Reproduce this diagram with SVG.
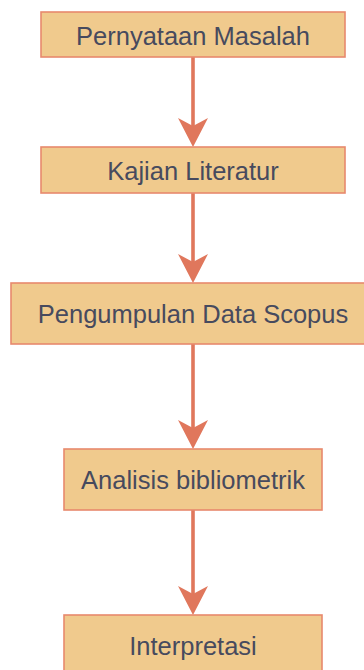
<svg xmlns="http://www.w3.org/2000/svg" width="364" height="670" viewBox="0 0 364 670">
<defs>
<style>
.box{fill:#F0CA8D;stroke:#E8896D;stroke-width:1.6}
.lbl{font-family:"Liberation Sans",Arial,sans-serif;font-size:25.5px;fill:#474A5E;text-anchor:middle}
.ln{stroke:#E0775C;stroke-width:3.6;fill:none}
.hd{fill:#E0775C}
</style>
</defs>
<rect width="364" height="670" fill="#FFFFFF"/>
<g id="connectors">
<line class="ln" x1="193" y1="57" x2="193" y2="130"/>
<path class="hd" d="M193 147 L178 118 L193 126 L208 118 Z"/>
<line class="ln" x1="193" y1="193" x2="193" y2="266"/>
<path class="hd" d="M193 283 L178 254 L193 262 L208 254 Z"/>
<line class="ln" x1="193" y1="344" x2="193" y2="432"/>
<path class="hd" d="M193 449 L178 420 L193 428 L208 420 Z"/>
<line class="ln" x1="193" y1="510" x2="193" y2="598"/>
<path class="hd" d="M193 615 L178 586 L193 594 L208 586 Z"/>
</g>
<g id="n1"><rect class="box" x="41" y="12" width="304" height="45"/><text class="lbl" x="193" y="45">Pernyataan Masalah</text></g>
<g id="n2"><rect class="box" x="41" y="147" width="304" height="46"/><text class="lbl" x="193" y="180">Kajian Literatur</text></g>
<g id="n3"><rect class="box" x="11" y="283" width="364" height="61"/><text class="lbl" x="193" y="323">Pengumpulan Data Scopus</text></g>
<g id="n4"><rect class="box" x="64" y="449" width="258" height="61"/><text class="lbl" x="193" y="489">Analisis bibliometrik</text></g>
<g id="n5"><rect class="box" x="64" y="615" width="258" height="61"/><text class="lbl" x="193" y="655">Interpretasi</text></g>
</svg>
